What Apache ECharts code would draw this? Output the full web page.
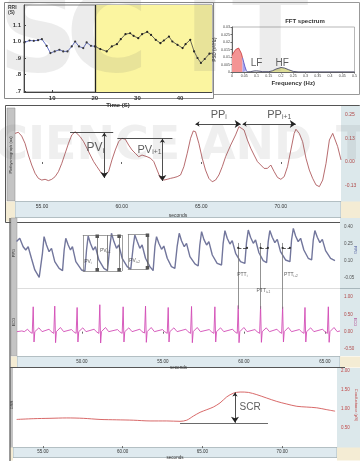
<!DOCTYPE html>
<html><head><meta charset="utf-8">
<script src="https://cdn.jsdelivr.net/npm/echarts@6/dist/echarts.min.js"></script>
<style>html,body{margin:0;padding:0;background:#fff}#c{width:360px;height:461px}#err{position:absolute;left:0;top:0;font:9px monospace;color:red;background:#fff}</style>
</head><body><div id="c"></div><div id="err"></div>
<script>
// ---------- DATA ----------
// Panel A: RR intervals (s) vs time (s)
const rriData = [[3.5,0.994],[4.7,1.006],[5.7,1.004],[6.7,1.008],[7.6,1.014],[8.7,0.974],[9.6,0.93],[10.6,0.94],[11.7,0.95],[12.6,0.94],[13.6,0.94],[14.6,0.97],[15.4,1.0],[16.3,0.97],[17.3,0.96],[18.1,0.994],[19.1,0.974],[20.1,0.97],[21.3,0.954],[22.8,0.94],[24.0,0.97],[25.2,0.984],[26.1,1.014],[27.2,1.044],[28.3,1.05],[29.1,1.034],[30.2,1.02],[31.1,1.044],[32.3,1.058],[33.2,1.04],[34.3,1.01],[35.4,0.99],[36.2,1.006],[37.4,1.03],[38.2,1.0],[39.4,0.98],[40.6,0.96],[41.3,0.984],[42.4,1.01],[43.3,0.94],[44.1,0.90],[44.9,0.87],[45.8,0.894],[46.9,0.926],[47.6,0.93]];
const rriTicksX = [10,20,30,40];
const rriTicksY = [0.7,0.8,0.9,1.0,1.1];
const rriWindow = [20, 47.5];
// Panel B: FFT spectrum
const fftRed = [[0,0.011],[0.005,0.0125],[0.01,0.0138],[0.015,0.015],[0.02,0.0158],[0.027,0.016],[0.033,0.0148],[0.038,0.0125],[0.043,0.0095]];
const fftBlue = [[0.043,0.0095],[0.048,0.0065],[0.053,0.0035],[0.058,0.0012],[0.063,0]];
const fftRest = [[0.063,0],[0.075,0.0002],[0.09,0.0007],[0.1,0.0008],[0.11,0.0006],[0.125,0.0002],[0.15,0.0002],[0.165,0.0008],[0.18,0.002],[0.2,0.003],[0.215,0.0026],[0.23,0.0016],[0.25,0.0004],[0.27,0],[0.3,0],[0.5,0]];
const fftHF = [[0.15,0.0002],[0.165,0.0008],[0.18,0.002],[0.2,0.003],[0.215,0.0026],[0.23,0.0016],[0.25,0.0004]];
// Panel C: plethysmograph with PV / PP
const ppgA = [[53.30,0.152],[53.51,0.158],[53.72,0.138],[53.93,0.099],[54.14,0.037],[54.35,-0.016],[54.56,-0.060],[54.77,-0.087],[54.98,-0.096],[55.19,-0.092],[55.40,-0.099],[55.61,-0.092],[55.82,-0.078],[56.03,-0.051],[56.24,-0.007],[56.45,0.046],[56.66,0.099],[56.87,0.144],[57.08,0.161],[57.18,0.158],[57.39,0.135],[57.61,0.108],[57.82,0.073],[58.03,0.037],[58.24,0.002],[58.45,-0.025],[58.66,-0.051],[58.87,-0.074],[58.97,-0.082],[59.18,-0.051],[59.39,0.011],[59.60,0.064],[59.81,0.108],[60.02,0.126],[60.23,0.121],[60.44,0.090],[60.65,0.064],[60.86,0.046],[61.07,0.028],[61.28,0.037],[61.39,0.046],[61.60,0.028],[61.81,0.020],[62.02,0.002],[62.23,-0.043],[62.44,-0.087],[62.65,-0.096],[62.86,-0.092],[63.07,-0.087],[63.28,-0.083],[63.49,-0.078],[63.70,-0.069],[63.91,-0.025],[64.12,0.046],[64.33,0.126],[64.50,0.165],[64.64,0.161],[64.85,0.099],[65.06,0.020],[65.27,-0.043],[65.48,-0.087],[65.69,-0.105],[65.90,-0.096],[66.11,-0.069],[66.32,-0.025],[66.53,0.028],[66.85,0.090],[67.16,0.144],[67.37,0.188],[67.48,0.197],[67.69,0.170],[67.90,0.117],[68.11,0.073],[68.32,0.037],[68.53,0.002],[68.74,-0.016],[68.95,-0.034],[69.16,-0.034],[69.37,-0.016],[69.58,-0.051],[69.79,-0.082],[70.00,-0.092],[70.21,-0.078],[70.42,-0.025],[70.63,0.064],[70.84,0.152],[70.95,0.174],[71.16,0.152],[71.37,0.108],[71.58,0.020],[71.79,-0.043],[72.00,-0.087],[72.21,-0.122],[72.42,-0.131],[72.63,-0.096],[72.84,-0.007],[73.05,0.117],[73.26,0.152],[73.36,0.144],[73.57,0.082],[73.78,0.011]];
const ppgATicksX = [55,60,65,70];
const ppgATicksY = [-0.125,0,0.125,0.25];
const pvLevelLines = [[56.76,59.47,0.16],[59.73,63.19,0.128]];
const pvArrows = [[58.91,0.155,-0.085],[62.56,0.123,-0.101]];
const ppArrows = [[64.64,67.48,0.202],[67.6,70.94,0.202]];
// Panel D: PPG + ECG with PTT
const ppgB = [[45.97,0.271],[46.17,0.300],[46.38,0.226],[46.54,0.197],[46.69,0.226],[46.89,0.124],[47.10,0.021],[47.37,-0.044],
[47.57,0.168],[47.67,0.315],[47.82,0.241],[47.98,0.182],[48.13,0.212],[48.33,0.094],[48.60,0.035],[48.81,0.015],
[48.91,0.197],[49.01,0.300],[49.16,0.241],[49.30,0.197],[49.42,0.226],[49.63,0.094],[49.98,0.021],[50.19,0.012],
[50.29,0.197],[50.39,0.320],[50.53,0.256],[50.70,0.197],[50.84,0.226],[51.05,0.109],[51.36,0.035],[51.58,0.015],
[51.73,0.226],[51.83,0.344],[51.98,0.271],[52.14,0.212],[52.28,0.241],[52.49,0.124],[52.80,0.050],[53.02,0.029],
[53.17,0.226],[53.27,0.329],[53.42,0.271],[53.58,0.212],[53.72,0.241],[53.93,0.124],[54.20,0.050],[54.40,0.015],
[54.51,0.226],[54.61,0.315],[54.75,0.256],[54.92,0.203],[55.06,0.232],[55.27,0.124],[55.53,0.050],[55.74,0.035],
[55.88,0.226],[56.01,0.344],[56.15,0.279],[56.32,0.226],[56.46,0.256],[56.67,0.138],[56.98,0.074],[57.18,0.056],
[57.28,0.241],[57.39,0.359],[57.53,0.291],[57.70,0.241],[57.84,0.271],[58.05,0.153],[58.35,0.079],[58.62,0.065],
[58.72,0.256],[58.83,0.368],[58.97,0.300],[59.14,0.250],[59.28,0.279],[59.49,0.168],[59.79,0.094],[60.06,0.079],
[60.16,0.262],[60.27,0.373],[60.41,0.309],[60.58,0.256],[60.72,0.285],[60.93,0.173],[61.19,0.103],[61.40,0.085],
[61.50,0.271],[61.60,0.368],[61.75,0.309],[61.91,0.262],[62.06,0.291],[62.26,0.182],[62.57,0.109],[62.84,0.094],
[62.94,0.285],[63.05,0.388],[63.19,0.320],[63.35,0.271],[63.50,0.300],[63.70,0.197],[63.97,0.124],[64.18,0.109],
[64.28,0.285],[64.38,0.368],[64.53,0.309],[64.69,0.262],[64.84,0.291],[65.04,0.191],[65.35,0.124],[65.62,0.103]];
const ecg = [[46.0,0.0],[46.3,0.02],[46.45,0.0],[46.65,0.07],[46.78,0.0],[46.94,-0.05],[47.00,0.72],[47.05,-0.30],[47.10,0.0],[47.35,0.11],[47.55,0.0],
[47.98,0.07],[48.11,0.0],[48.27,-0.05],[48.33,0.74],[48.38,-0.32],[48.43,0.0],[48.68,0.12],[48.88,0.0],
[49.36,0.06],[49.49,0.0],[49.65,-0.05],[49.71,0.70],[49.76,-0.30],[49.81,0.0],[50.06,0.11],[50.26,0.0],
[50.76,0.07],[50.89,0.0],[51.05,-0.05],[51.11,0.78],[51.16,-0.33],[51.21,0.0],[51.46,0.12],[51.66,0.0],
[52.20,0.06],[52.33,0.0],[52.49,-0.05],[52.55,0.72],[52.60,-0.30],[52.65,0.0],[52.90,0.11],[53.10,0.0],
[53.58,0.07],[53.71,0.0],[53.87,-0.04],[53.93,0.74],[53.98,-0.31],[54.03,0.0],[54.28,0.12],[54.48,0.0],
[54.98,0.06],[55.11,0.0],[55.27,-0.05],[55.33,0.70],[55.38,-0.30],[55.43,0.0],[55.68,0.11],[55.88,0.0],
[56.42,0.07],[56.55,0.0],[56.71,-0.05],[56.77,0.73],[56.82,-0.32],[56.87,0.0],[57.12,0.12],[57.32,0.0],
[57.86,0.06],[57.99,0.0],[58.15,-0.05],[58.21,0.72],[58.26,-0.30],[58.31,0.0],[58.56,0.11],[58.76,0.0],
[59.30,0.07],[59.43,0.0],[59.59,-0.05],[59.65,0.76],[59.70,-0.32],[59.75,0.0],[60.00,0.12],[60.20,0.0],
[60.68,0.06],[60.81,0.0],[60.97,-0.05],[61.03,0.74],[61.08,-0.31],[61.13,0.0],[61.38,0.11],[61.58,0.0],
[62.04,0.07],[62.17,0.0],[62.33,-0.05],[62.39,0.72],[62.44,-0.30],[62.49,0.0],[62.74,0.12],[62.94,0.0],
[63.42,0.06],[63.55,0.0],[63.71,-0.05],[63.77,0.70],[63.82,-0.30],[63.87,0.0],[64.12,0.11],[64.32,0.0],
[64.86,0.07],[64.99,0.0],[65.15,-0.05],[65.21,0.72],[65.26,-0.31],[65.31,0.0],[65.56,0.12],[65.76,0.0],[65.93,0.02]];
const ppgBTicksY = [-0.05,0.10,0.25,0.40];
const ecgTicksY = [-0.5,0,0.5,1];
const panelDTicksX = [50,55,60,65];
const pvBoxes = [[50.06,51.54,0.012,0.329],[51.54,52.47,0.012,0.329],[52.84,54.07,0.030,0.338]];
const pvBoxArrowT = [50.95,52.30,54.05];
const pttRPeak = [59.65,61.03,62.39];
const pttFoot = [60.19,61.48,62.84];
// Panel E: skin conductance
const gsr = [[53.35,0.71],[54.39,0.73],[55.44,0.74],[56.49,0.75],[57.53,0.74],[58.58,0.71],[59.63,0.70],[60.67,0.69],[61.72,0.67],[62.77,0.67],[63.60,0.66],[64.02,0.69],[64.44,0.80],[64.86,0.90],[65.28,0.97],[65.69,1.04],[66.11,1.15],[66.53,1.31],[66.95,1.41],[67.37,1.44],[67.89,1.43],[68.42,1.37],[69.04,1.28],[69.67,1.19],[70.30,1.12],[70.93,1.06],[71.55,1.04],[72.18,1.02],[72.81,0.97],[73.33,0.93]];
const gsrTicksX = [55,60,65,70];
const gsrTicksY = [0.5,1,1.5,2];
const scrBase = [63.6,69.12,0.61];
const scrArrow = [67.05,1.43,0.62];

// ---------- CHART ----------
const chart = echarts.init(document.getElementById('c'));
const F = '"Liberation Sans", Arial, sans-serif';
const tiny = (c, s) => ({fontSize: s || 5, color: c || '#333', fontFamily: F});
const fx2 = v => v.toFixed(2);

function note(xi, yi, items) {
  return {type:'scatter', xAxisIndex:xi, yAxisIndex:yi, symbolSize:0, silent:true, z:20,
    data: items.map(it => { const fs = it[3] || 11; return {value:[it[0], it[1]], label:{show:true, position:'inside', formatter:it[2],
      rich:{a:{fontSize:fs, color:'#333', fontFamily:F}, s:{fontSize:fs*0.62, color:'#333', fontFamily:F, padding:[fs*0.45,0,0,0]}}}}; })};
}
function segs(xi, yi, list, sym, style, size) {
  return {type:'lines', coordinateSystem:'cartesian2d', xAxisIndex:xi, yAxisIndex:yi, silent:true, z:15,
    symbol:sym || ['none','none'], symbolSize:size || 5, lineStyle:Object.assign({color:'#222', width:0.8, opacity:1, curveness:0}, style || {}),
    data:list.map(c => ({coords:[[c[0],c[1]],[c[2],c[3]]]}))};
}

const boxSegs = [];
pvBoxes.forEach(b => {
  boxSegs.push([b[0],b[3],b[1],b[3]],[b[0],b[2],b[1],b[2]],[b[0],b[2],b[0],b[3]],[b[1],b[2],b[1],b[3]]);
});

const option = {
  animation:false,
  backgroundColor:'#fff',
  textStyle:{fontFamily:F},
  grid:[
    {left:24, top:5, width:188, height:87, show:true, borderColor:'#555', borderWidth:0.8, backgroundColor:'#fff'},
    {left:232, top:27, width:127, height:45, show:true, borderColor:'#888', borderWidth:0.6},
    {left:15, top:108, width:326, height:92},
    {left:17, top:218, width:323, height:70},
    {left:17, top:288, width:323, height:68},
    {left:13, top:368, width:324, height:79}
  ],
  xAxis:[
    {gridIndex:0, type:'value', min:3.4, max:47.5, axisLine:{lineStyle:{color:'#444'}},
      axisTick:{customValues:rriTicksX, length:2, inside:true}, splitLine:{show:false},
      axisLabel:Object.assign(tiny('#333',6), {customValues:rriTicksX, fontWeight:'bold', margin:3}),
      name:'Time (S)', nameLocation:'middle', nameGap:9, nameTextStyle:Object.assign(tiny('#333',6), {fontWeight:'bold'})},
    {gridIndex:1, type:'value', min:0, max:0.5, interval:0.05, axisLine:{lineStyle:{color:'#666'}},
      axisTick:{length:1.5}, splitLine:{show:false},
      axisLabel:Object.assign(tiny('#444',3.6), {interval:0, margin:2}),
      name:'Frequency (Hz)', nameLocation:'middle', nameGap:8, nameTextStyle:Object.assign(tiny('#333',6), {fontWeight:'bold'})},
    {gridIndex:2, type:'value', min:53.3, max:73.78, axisLine:{show:false}, splitLine:{show:false},
      axisTick:{customValues:ppgATicksX, length:2, lineStyle:{color:'#666'}},
      axisLabel:Object.assign(tiny('#333',5), {customValues:ppgATicksX, formatter:fx2, margin:4}),
      name:'seconds', nameLocation:'middle', nameGap:13, nameTextStyle:tiny('#333',5)},
    {gridIndex:3, type:'value', min:46, max:65.93, show:false},
    {gridIndex:4, type:'value', min:46, max:65.93, axisLine:{show:false}, splitLine:{show:false},
      axisTick:{customValues:panelDTicksX, length:2, lineStyle:{color:'#666'}},
      axisLabel:Object.assign(tiny('#333',4.5), {customValues:panelDTicksX, formatter:fx2, margin:3}),
      name:'seconds', nameLocation:'middle', nameGap:8, nameTextStyle:tiny('#333',4.5)},
    {gridIndex:5, type:'value', min:53.12, max:73.45, axisLine:{show:false}, splitLine:{show:false},
      axisTick:{customValues:gsrTicksX, length:2, lineStyle:{color:'#666'}},
      axisLabel:Object.assign(tiny('#333',4.5), {customValues:gsrTicksX, formatter:fx2, margin:3}),
      name:'seconds', nameLocation:'middle', nameGap:8, nameTextStyle:tiny('#333',4.5)}
  ],
  yAxis:[
    {gridIndex:0, type:'value', min:0.694, max:1.221, axisLine:{lineStyle:{color:'#444'}}, splitLine:{show:false},
      axisTick:{customValues:rriTicksY, length:2, inside:true},
      axisLabel:Object.assign(tiny('#333',6), {customValues:rriTicksY, fontWeight:'bold', margin:3,
        formatter:v => v >= 1 ? v.toFixed(1) : '.' + Math.round(v*10)})},
    {gridIndex:1, type:'value', min:0, max:0.03, interval:0.005, axisLine:{lineStyle:{color:'#666'}},
      axisTick:{length:1.5}, splitLine:{show:false},
      axisLabel:Object.assign(tiny('#444',3.6), {margin:2}),
      name:'PSD (s²/Hz)', nameLocation:'middle', nameGap:14, nameRotate:90, nameTextStyle:tiny('#333',4.5)},
    {gridIndex:2, type:'value', position:'right', min:-0.202, max:0.287, axisLine:{show:false}, splitLine:{show:false},
      axisTick:{show:false},
      axisLabel:Object.assign(tiny('#b04848',5), {customValues:ppgATicksY, formatter:fx2, margin:4})},
    {gridIndex:3, type:'value', position:'right', min:-0.138, max:0.479, axisLine:{show:false}, splitLine:{show:false},
      axisTick:{show:false},
      axisLabel:Object.assign(tiny('#555',4.5), {customValues:ppgBTicksY, formatter:fx2, margin:4})},
    {gridIndex:4, type:'value', position:'right', min:-0.706, max:1.265, axisLine:{show:false}, splitLine:{show:false},
      axisTick:{show:false},
      axisLabel:Object.assign(tiny('#b04848',4.5), {customValues:ecgTicksY, formatter:fx2, margin:4})},
    {gridIndex:5, type:'value', position:'right', min:0, max:2.08, axisLine:{show:false}, splitLine:{show:false},
      axisTick:{show:false},
      axisLabel:Object.assign(tiny('#c04848',4.5), {customValues:gsrTicksY, formatter:fx2, margin:4})}
  ],
  series:[
    {type:'custom', xAxisIndex:0, yAxisIndex:0, silent:true, z:1, data:[rriWindow],
      renderItem:(params, api) => {
        const p0 = api.coord([api.value(0), 1.221]);
        const p1 = api.coord([api.value(1), 0.694]);
        return {type:'rect', shape:{x:p0[0], y:p0[1], width:p1[0]-p0[0], height:p1[1]-p0[1]}, style:{fill:'#fbf5a0'}};
      }},
    segs(0,0,[[rriWindow[0],0.694,rriWindow[0],1.221]],null,{color:'#222', width:1.3}),
    {type:'line', xAxisIndex:0, yAxisIndex:0, data:rriData.filter(d => d[0] < 20.5), symbol:'circle', symbolSize:2.2,
      lineStyle:{width:0.8, color:'#3f4fb8'}, itemStyle:{color:'#333'}, z:5},
    {type:'line', xAxisIndex:0, yAxisIndex:0, data:rriData.filter(d => d[0] > 19.5), symbol:'circle', symbolSize:2.2,
      lineStyle:{width:0.8, color:'#444'}, itemStyle:{color:'#222'}, z:5},
    {type:'line', xAxisIndex:1, yAxisIndex:1, data:fftRed, symbol:'none', lineStyle:{color:'#c83838', width:0.8},
      areaStyle:{color:'#f49494', opacity:1}},
    {type:'line', xAxisIndex:1, yAxisIndex:1, data:fftBlue, symbol:'none', lineStyle:{color:'#4a4ac0', width:0.8},
      areaStyle:{color:'#a8a4f0', opacity:1}},
    {type:'line', xAxisIndex:1, yAxisIndex:1, data:fftHF, symbol:'none', lineStyle:{width:0},
      areaStyle:{color:'#dcdc96', opacity:1}},
    {type:'line', xAxisIndex:1, yAxisIndex:1, data:fftRest, symbol:'none', lineStyle:{color:'#33335a', width:0.8}},
    {type:'line', xAxisIndex:2, yAxisIndex:2, data:ppgA, symbol:'none', lineStyle:{color:'#a4464a', width:0.8}},
    segs(2,2, pvLevelLines.map(l => [l[0],l[2],l[1],l[2]])),
    segs(2,2, pvArrows.map(a => [a[0],a[1],a[0],a[2]]).concat(ppArrows.map(a => [a[0],a[2],a[1],a[2]])), ['arrow','arrow'], null, [4,6]),
    {type:'line', xAxisIndex:3, yAxisIndex:3, data:ppgB, symbol:'none', lineStyle:{color:'#72769c', width:1.4}},
    {type:'line', xAxisIndex:4, yAxisIndex:4, data:ecg, symbol:'none', lineStyle:{color:'#d24cb6', width:0.9}},
    segs(3,3, boxSegs, null, {color:'#777', width:0.7}),
    segs(3,3, pvBoxArrowT.map((t,i) => [t, pvBoxes[i][3]-0.01, t, pvBoxes[i][2]+0.01]), ['rect','rect'], {color:'#555', width:0.7}, 3.5),
    segs(3,3, pttRPeak.map(t => [t,0.259,t,-0.138]), null, {color:'#777', width:0.8}),
    segs(4,4, pttRPeak.map(t => [t,1.265,t,0.66]), null, {color:'#777', width:0.8}),
    segs(3,3, pttRPeak.map((t,i) => [t,0.215,pttFoot[i],0.215]), ['circle','circle'], {color:'#333', width:0.8, type:'dashed'}, 2.2),
    {type:'line', xAxisIndex:5, yAxisIndex:5, data:gsr, symbol:'none', smooth:0.3, lineStyle:{color:'#d45858', width:0.9}},
    segs(5,5, [[scrBase[0],scrBase[2],scrBase[1],scrBase[2]]], null, {color:'#444', width:0.8}),
    segs(5,5, [[scrArrow[0],scrArrow[1],scrArrow[0],scrArrow[2]]], ['arrow','arrow'], {color:'#222', width:0.8}, [4,6]),
    note(2,2,[[58.35,0.074,'{a|PV}{s|i}',12],[61.75,0.064,'{a|PV}{s|i+1}',11],[66.1,0.25,'{a|PP}{s|i}',11],[69.9,0.25,'{a|PP}{s|i+1}',11]]),
    note(3,3,[[50.37,0.091,'{a|PV}{s|i}',5],[51.45,0.188,'{a|PV}{s|i+1}',5],[53.25,0.10,'{a|PV}{s|i+2}',5],
              [59.9,-0.023,'{a|PTT}{s|i}',5],[62.9,-0.023,'{a|PTT}{s|i+2}',5]]),
    note(4,4,[[61.2,1.19,'{a|PTT}{s|i+1}',5]]),
    note(5,5,[[68.0,1.03,'{a|SCR}',10]]),
    note(1,1,[[0.1,0.0058,'{a|LF}',10],[0.205,0.0058,'{a|HF}',10]])
  ],
  graphic:[
    {type:'rect', shape:{x:4.5,y:2.5,width:209,height:96}, style:{fill:'none', stroke:'#888', lineWidth:1}, z:-1},
    {type:'rect', shape:{x:213.5,y:2.5,width:146,height:92}, style:{fill:'#fff', stroke:'#999', lineWidth:1}, z:-2},
    {type:'text', x:8, y:5, style:{text:'RRI\n(S)', font:'bold 5px "Liberation Sans"', fill:'#333', lineHeight:5}},
    {type:'text', x:305, y:18, style:{text:'FFT spectrum', font:'bold 6px "Liberation Sans"', fill:'#333', align:'center'}},
    {type:'rect', shape:{x:5.5,y:105.5,width:354,height:117}, style:{fill:'#fff', stroke:'#555', lineWidth:1}, z:-3},
    {type:'rect', shape:{x:7,y:108,width:8,height:93}, style:{fill:'#c4c4c4', stroke:'#888', lineWidth:0.5}, z:-1},
    {type:'text', x:11, y:155, rotation:Math.PI/2, style:{text:'Plethysmograph (au)', font:'4px "Liberation Sans"', fill:'#333', align:'center', verticalAlign:'middle'}},
    {type:'rect', shape:{x:341,y:106,width:19,height:96}, style:{fill:'#dce8eb'}, z:-1},
    {type:'rect', shape:{x:15,y:201.5,width:326,height:16}, style:{fill:'#dfeaef', stroke:'#8a9aa0', lineWidth:0.6}, z:-1},
    {type:'rect', shape:{x:6,y:201.5,width:9,height:20}, style:{fill:'#f4ecd4'}, z:-1},
    {type:'rect', shape:{x:341,y:201.5,width:19,height:20}, style:{fill:'#f4ecd4'}, z:-1},
    {type:'line', shape:{x1:10,y1:218,x2:10,y2:461}, style:{stroke:'#555', lineWidth:1.2}},
    {type:'rect', shape:{x:11,y:218,width:6,height:138}, style:{fill:'#c4c4c4', stroke:'#999', lineWidth:0.5}, z:-1},
    {type:'text', x:14, y:253, rotation:Math.PI/2, style:{text:'PPG', font:'4px "Liberation Sans"', fill:'#333', align:'center', verticalAlign:'middle'}},
    {type:'text', x:14, y:322, rotation:Math.PI/2, style:{text:'ECG', font:'4px "Liberation Sans"', fill:'#333', align:'center', verticalAlign:'middle'}},
    {type:'rect', shape:{x:340,y:218,width:20,height:138}, style:{fill:'#dce8eb'}, z:-1},
    {type:'line', shape:{x1:17,y1:288.5,x2:340,y2:288.5}, style:{stroke:'#d4d4d4', lineWidth:0.8}},
    {type:'line', shape:{x1:340,y1:288.5,x2:360,y2:288.5}, style:{stroke:'#9aaab0', lineWidth:0.8}},
    {type:'text', x:355, y:250, rotation:-Math.PI/2, style:{text:'PPG', font:'4px "Liberation Sans"', fill:'#5560a0', align:'center', verticalAlign:'middle'}},
    {type:'text', x:355, y:322, rotation:-Math.PI/2, style:{text:'ECG', font:'4px "Liberation Sans"', fill:'#b04890', align:'center', verticalAlign:'middle'}},
    {type:'rect', shape:{x:17,y:356.5,width:323,height:11}, style:{fill:'#dfeaef', stroke:'#8a9aa0', lineWidth:0.6}, z:-1},
    {type:'rect', shape:{x:11,y:356.5,width:6,height:11}, style:{fill:'#f4ecd4'}, z:-1},
    {type:'rect', shape:{x:340,y:356.5,width:20,height:11}, style:{fill:'#f4ecd4'}, z:-1},
    {type:'line', shape:{x1:10,y1:367.5,x2:345,y2:367.5}, style:{stroke:'#555', lineWidth:1.2}},
    {type:'rect', shape:{x:10,y:368,width:3,height:80}, style:{fill:'#c4c4c4'}, z:-1},
    {type:'text', x:12, y:405, rotation:Math.PI/2, style:{text:'GSR', font:'4px "Liberation Sans"', fill:'#333', align:'center', verticalAlign:'middle'}},
    {type:'rect', shape:{x:337,y:368,width:23,height:80}, style:{fill:'#dce8eb'}, z:-1},
    {type:'text', x:356, y:405, rotation:-Math.PI/2, style:{text:'Conductance (µS)', font:'4px "Liberation Sans"', fill:'#c04848', align:'center', verticalAlign:'middle'}},
    {type:'rect', shape:{x:13,y:447.5,width:324,height:10}, style:{fill:'#dfeaef', stroke:'#8a9aa0', lineWidth:0.6}, z:-1},
    {type:'rect', shape:{x:10,y:447.5,width:3,height:13}, style:{fill:'#f4ecd4'}, z:-1},
    {type:'rect', shape:{x:337,y:447.5,width:23,height:13}, style:{fill:'#f4ecd4'}, z:-1},
    {type:'text', x:-2, y:-14, z:100, silent:true, style:{text:'S', font:'bold 112px "DejaVu Sans"', fill:'rgba(110,110,110,0.13)'}},
    {type:'text', x:66, y:-14, z:100, silent:true, style:{text:'C', font:'bold 112px "DejaVu Sans"', fill:'rgba(110,110,110,0.13)'}},
    {type:'text', x:184, y:-14, z:100, silent:true, style:{text:'I', font:'bold 112px "DejaVu Sans"', fill:'rgba(110,110,110,0.13)'}},
    {type:'text', x:232, y:-14, z:100, silent:true, style:{text:'T', font:'bold 112px "DejaVu Sans"', fill:'rgba(110,110,110,0.13)'}},
    {type:'text', x:-39, y:124, z:100, silent:true, style:{text:'SCIENCE', font:'bold 46px "DejaVu Sans"', fill:'rgba(110,110,110,0.11)'}},
    {type:'text', x:200, y:124, z:100, silent:true, style:{text:'AND', font:'bold 46px "DejaVu Sans"', fill:'rgba(110,110,110,0.11)'}},
    {type:'text', x:336, y:124, z:100, silent:true, style:{text:'TECHNOLOGY', font:'bold 46px "DejaVu Sans"', fill:'rgba(110,110,110,0.11)'}}
  ]
};
try { chart.setOption(option); } catch (e) { document.getElementById('err').textContent = String(e && e.stack || e).slice(0, 300); }
</script></body></html>
